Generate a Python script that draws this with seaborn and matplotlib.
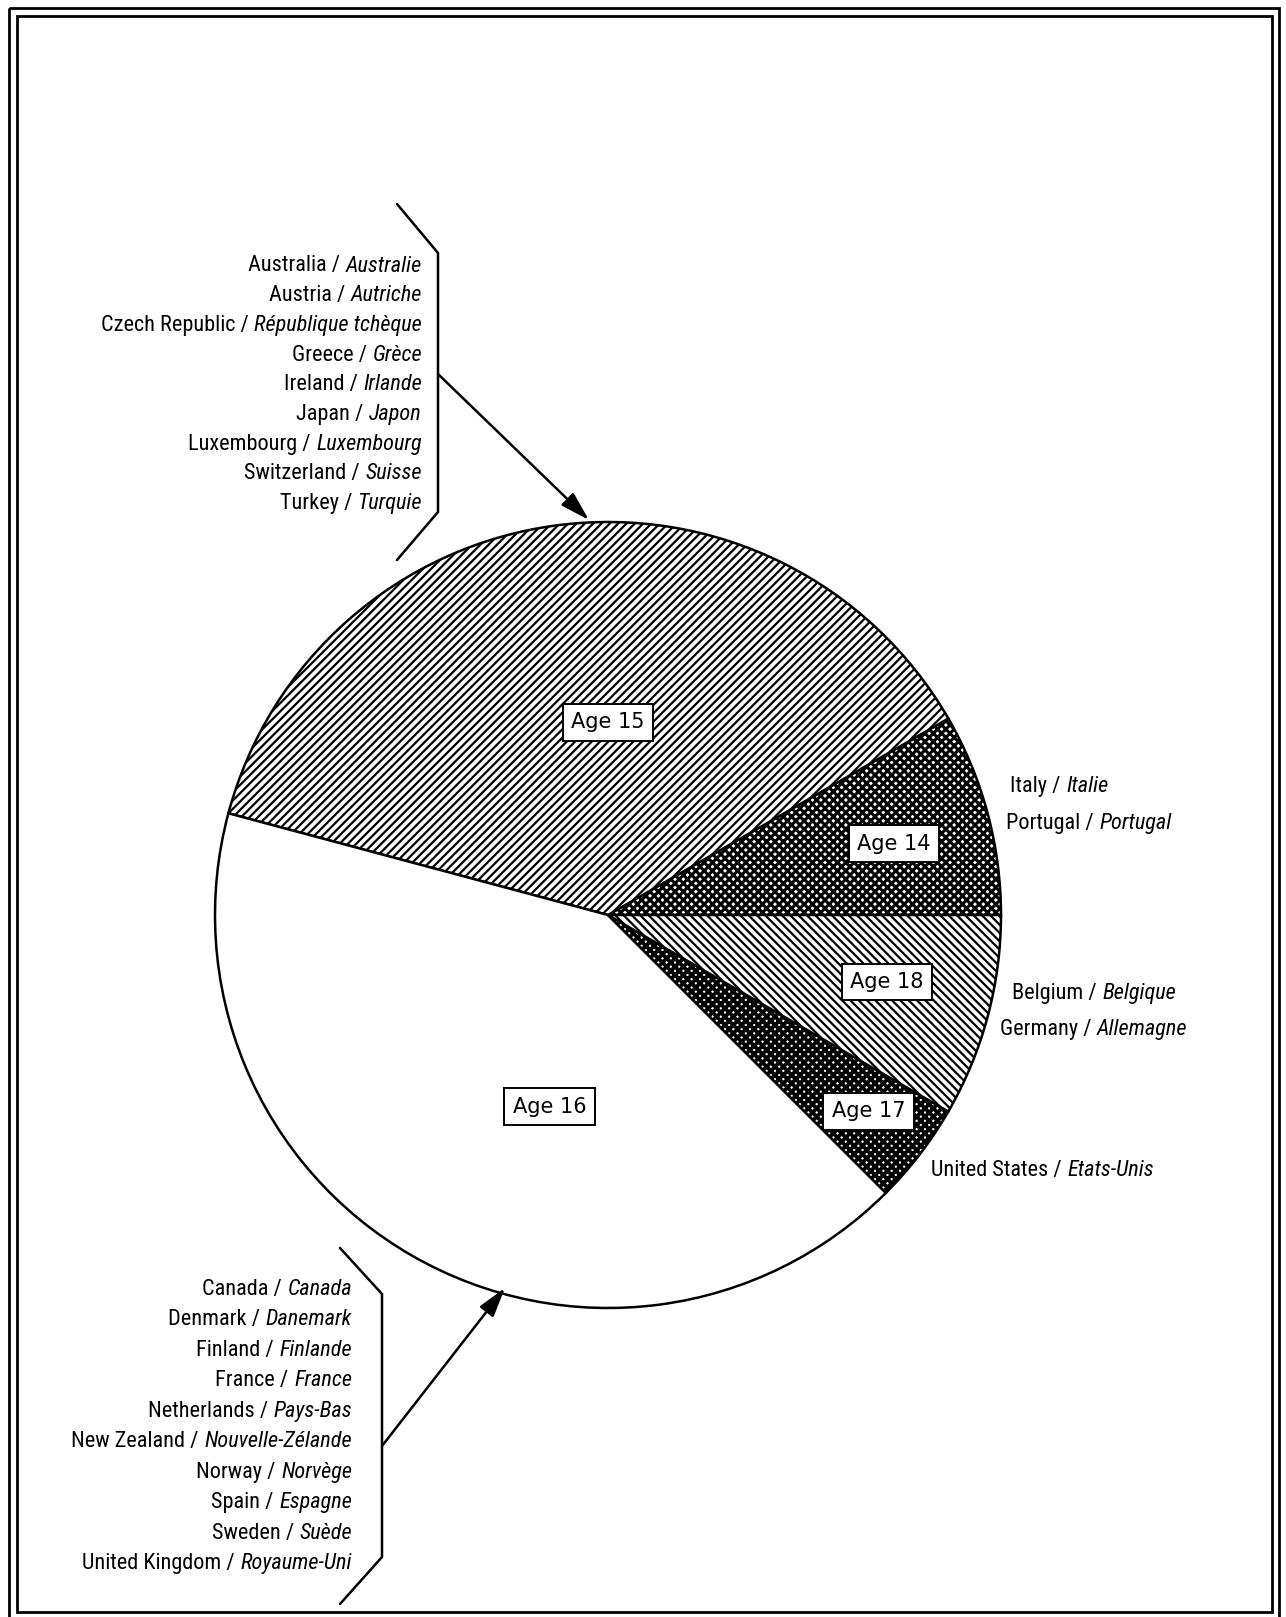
import numpy as np
import matplotlib
matplotlib.use("Agg")
import matplotlib.pyplot as plt
from matplotlib import font_manager as fm
from matplotlib.patches import Rectangle
import seaborn as sns

# Countries by age at end of compulsory schooling (English / French names)
age14_en = ["Italy", "Portugal"]
age14_fr = ["Italie", "Portugal"]
age15_en = ["Australia", "Austria", "Czech Republic", "Greece", "Ireland",
            "Japan", "Luxembourg", "Switzerland", "Turkey"]
age15_fr = ["Australie", "Autriche", "République tchèque", "Grèce", "Irlande",
            "Japon", "Luxembourg", "Suisse", "Turquie"]
age16_en = ["Canada", "Denmark", "Finland", "France", "Netherlands",
            "New Zealand", "Norway", "Spain", "Sweden", "United Kingdom"]
age16_fr = ["Canada", "Danemark", "Finlande", "France", "Pays-Bas",
            "Nouvelle-Zélande", "Norvège", "Espagne", "Suède", "Royaume-Uni"]
age17_en = ["United States"]
age17_fr = ["Etats-Unis"]
age18_en = ["Belgium", "Germany"]
age18_fr = ["Belgique", "Allemagne"]

age_labels = ["Age 14", "Age 15", "Age 16", "Age 17", "Age 18"]
counts = [len(age14_en), len(age15_en), len(age16_en), len(age17_en), len(age18_en)]
hatches = ["xxxx", "////", "", "xxxx", "\\\\\\\\"]
hatch_lw = [2.2, 1.6, 1.6, 2.7, 1.6]

W, H = 1286, 1617

sns.set_theme(style="white")
plt.rcParams["hatch.linewidth"] = 1.6
plt.rcParams["hatch.color"] = "black"
plt.rcParams["text.color"] = "black"

# narrow face for the country names if there is one
names = {f.name for f in fm.fontManager.ttflist}
lab_family, lab_stretch = "DejaVu Sans", "normal"
for cand in ["Liberation Sans Narrow", "Roboto Condensed", "Open Sans Condensed",
             "Noto Sans Condensed"]:
    if cand in names:
        lab_family = cand
        break

fig = plt.figure(figsize=(W / 100, H / 100), dpi=100, facecolor="white")
ax = fig.add_axes([0, 0, 1, 1])

# pick a size so the widest line is about as wide as in the scan
rend = fig.canvas.get_renderer()
tmp = ax.text(0, 0, "Czech Republic / République tchèque", family=lab_family,
              stretch=lab_stretch, size=10)
lab_size = min(16, 10 * 332 / tmp.get_window_extent(rend).width)
tmp.remove()

# pie, drawn in pixel coords (y axis flipped, so go clockwise in data)
cx, cy, R = 608, 915, 393
wedges, _ = ax.pie(counts, center=(cx, cy), radius=R, startangle=0,
                   counterclock=False, colors=["white"] * len(counts),
                   wedgeprops=dict(edgecolor="black", linewidth=1.8))
for w, h, hl in zip(wedges, hatches, hatch_lw):
    w.set_hatch(h)
    if hasattr(w, "set_hatch_linewidth"):
        w.set_hatch_linewidth(hl)

ax.set_xlim(0, W)
ax.set_ylim(H, 0)
ax.set_aspect("equal")
ax.axis("off")

# Age boxes
label_ang = [14, 90, 253, 323, 346.5]
label_r = [0.75, 0.49, 0.51, 0.83, 0.73]
for lab, a, r in zip(age_labels, label_ang, label_r):
    x = cx + r * R * np.cos(np.radians(a))
    y = cy - r * R * np.sin(np.radians(a))
    ax.text(x, y, lab, ha="center", va="center", fontsize=15, family="DejaVu Sans",
            color="black",
            bbox=dict(boxstyle="square,pad=0.4", fc="white", ec="black", lw=1.4))


def pair(x, y, en, fr, side):
    kw = dict(family=lab_family, stretch=lab_stretch, size=lab_size,
              color="black", va="center")
    if side == "right":
        t = ax.text(x, y, fr, ha="right", style="italic", **kw)
        ax.annotate(en + " /", xy=(0, 0.5), xycoords=t, xytext=(-4, 0),
                    textcoords="offset points", ha="right", **kw)
    else:
        t = ax.text(x, y, en + " /", ha="left", **kw)
        ax.annotate(fr, xy=(1, 0.5), xycoords=t, xytext=(4, 0),
                    textcoords="offset points", ha="left", style="italic", **kw)


for i, (en, fr) in enumerate(zip(age15_en, age15_fr)):
    pair(422, 266 + 29.7 * i, en, fr, "right")
for i, (en, fr) in enumerate(zip(age16_en, age16_fr)):
    pair(352, 1289 + 30.5 * i, en, fr, "right")

right_pos = [(1010, 786), (1006, 823), (1012, 993), (1000, 1029), (931, 1170)]
right_en = age14_en + age18_en + age17_en
right_fr = age14_fr + age18_fr + age17_fr
for (x, y), en, fr in zip(right_pos, right_en, right_fr):
    pair(x, y, en, fr, "left")

# brackets + arrows
for br in ([(397, 204), (438, 253), (438, 512), (397, 560)],
           [(340, 1248), (382, 1294), (382, 1557), (340, 1604)]):
    bx, by = zip(*br)
    ax.plot(bx, by, color="black", lw=1.8, solid_joinstyle="miter")

arrow = dict(arrowstyle="-|>,head_length=1.2,head_width=0.35", color="black",
             lw=1.8, mutation_scale=15, shrinkA=0, shrinkB=0)
ax.annotate("", xy=(589, 520), xytext=(438, 374), arrowprops=arrow)
ax.annotate("", xy=(505, 1288), xytext=(382, 1446), arrowprops=arrow)

# double frame
ax.add_patch(Rectangle((9, 8), 1270, 1640, fill=False, lw=2, ec="black", clip_on=False))
ax.add_patch(Rectangle((17, 16), 1255, 1596, fill=False, lw=2, ec="black", clip_on=False))

fig.savefig("out.png", dpi=100, facecolor="white")
